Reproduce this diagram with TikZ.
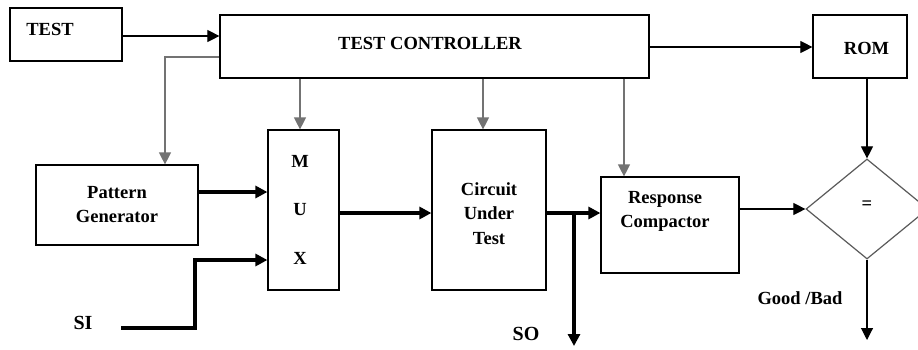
\documentclass[tikz,border=0pt]{standalone}
\usepackage{fontspec}
\setmainfont{Liberation Serif}
\usetikzlibrary{arrows.meta,calc,shapes.geometric}
\definecolor{lgray}{RGB}{115,115,115}
\definecolor{dgray}{RGB}{90,90,90}
\tikzset{
  box/.style={draw=black, line width=1.2pt, rectangle, inner sep=0pt},
  txt/.style={inner sep=0pt, font=\bfseries\fontsize{18.5}{24}\selectfont, align=center},
  tip/.style={-{Triangle[length=12pt,width=12pt]}},
  thinblack/.style={tip, draw=black, line width=1.1pt},
  thingray/.style={tip, draw=lgray, line width=1.2pt},
  thickline/.style={tip, draw=black, line width=3.2pt},
}
\begin{document}
\begin{tikzpicture}[x=1pt,y=-1pt]
\useasboundingbox (0,0) rectangle (918,349);
\fill[white] (0,0) rectangle (918,349);
% boxes
\node[box, minimum width=112pt, minimum height=53pt] (test) at (66,34.5) {};
\node[txt] (testt) at (50,29) {TEST};
\node[box, minimum width=429pt, minimum height=63pt] (tc) at (434.5,46.5) {};
\node[txt] (tct) at (430,43) {TEST CONTROLLER};
\node[box, minimum width=94pt, minimum height=63pt] (rom) at (860,46.5) {};
\node[txt] (romt) at (866.5,48) {ROM};
\node[box, minimum width=162pt, minimum height=80pt, font=\bfseries\fontsize{18.5}{24}\selectfont, align=center] (pg) at (117,205) {Pattern\\Generator};
\node[box, minimum width=71pt, minimum height=160pt] (mux) at (303.5,210) {};
\node[txt, font=\bfseries\fontsize{18.5}{48.5}\selectfont] (muxt) at (300,209.5) {M\\U\\X};
\node[box, minimum width=114pt, minimum height=160pt] (cut) at (489,210) {};
\node[txt, font=\bfseries\fontsize{18.5}{24.5}\selectfont] (cutt) at (489,213.5) {Circuit\\Under\\Test};
\node[box, minimum width=138pt, minimum height=96pt] (rc) at (670,225) {};
\node[txt] (rct) at (665,211) {Response\\Compactor};
\node[diamond, draw=dgray, line width=1.2pt, minimum width=122pt, minimum height=100pt, inner sep=0pt] (cmp) at (867,209) {};
\node[txt] (eq) at (867,205) {=};
% free labels
\node[txt, font=\bfseries\fontsize{20}{24}\selectfont] (si) at (83,323) {SI};
\node[txt, font=\bfseries\fontsize{20}{24}\selectfont] (so) at (526,334) {SO};
\node[txt] (gb) at (800,298) {Good /Bad};
\coordinate (siend) at (121,328);
\coordinate (soend) at (574,346);
\coordinate (gbend) at (867,340);
% connectors
\draw[thinblack] (test.east |- 0,36) -- (tc.west |- 0,36);
\draw[thingray] ($(tc.west)+(0,10.5)$) -| (pg.north -| 165,0);
\draw[thingray] (tc.south -| 300,0) -- (mux.north -| 300,0);
\draw[thingray] (tc.south -| 483,0) -- (cut.north -| 483,0);
\draw[thingray] (tc.south -| 624,0) -- (rc.north -| 624,0);
\draw[thinblack] (tc.east |- 0,47) -- (rom.west |- 0,47);
\draw[thinblack] (rom.south -| cmp.north) -- (cmp.north);
\draw[thickline] (pg.east |- 0,192) -- (mux.west |- 0,192);
\draw[thickline] (siend) -- (195,328) -- (195,260) -- (mux.west |- 0,260);
\draw[thickline] (mux.east |- 0,213) -- (cut.west |- 0,213);
\draw[thickline] (cut.east |- 0,213) -- (rc.west |- 0,213);
\draw[thickline] (574,213) -- (soend);
\draw[thinblack] (rc.east |- cmp.west) -- (cmp.west);
\draw[thinblack] (cmp.south) -- (gbend);
\end{tikzpicture}
\end{document}
